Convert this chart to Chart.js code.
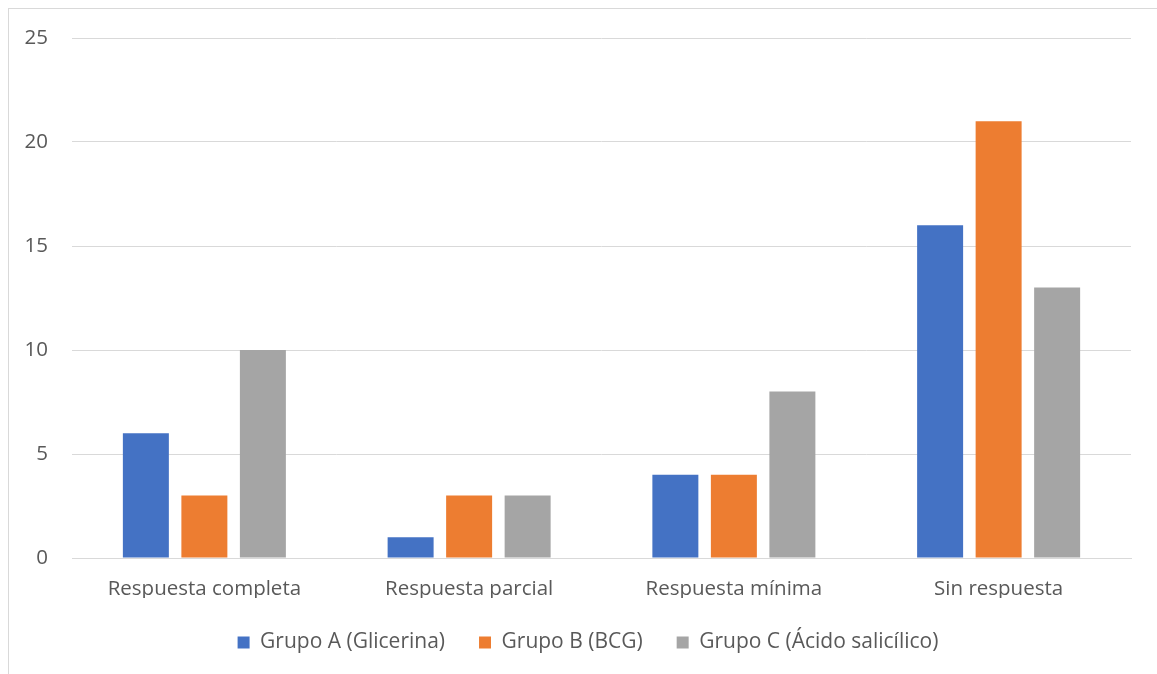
<!DOCTYPE html>
<html>
<head>
<meta charset="utf-8">
<script src="https://cdn.jsdelivr.net/npm/chart.js@4"></script>
<style>
  html, body { margin: 0; padding: 0; background: #fff; overflow: hidden; }
  #frame { position: absolute; left: 8px; top: 8px; width: 1200px; height: 700px; border: 1px solid #d9d9d9; }
  #wrap { position: absolute; left: 0; top: 0; width: 1157px; height: 674px; }
</style>
</head>
<body>
<div id="frame"></div>
<div id="wrap"><canvas id="myChart"></canvas></div>
<script>
var categorias = ['Respuesta completa', 'Respuesta parcial', 'Respuesta mínima', 'Sin respuesta'];
var grupoA = [6, 1, 4, 16];
var grupoB = [3, 3, 4, 21];
var grupoC = [10, 3, 8, 13];
var nombres = ['Grupo A (Glicerina)', 'Grupo B (BCG)', 'Grupo C (Ácido salicílico)'];
var colores = ['#4472C4', '#ED7D31', '#A5A5A5'];

var fuente = { family: 'Open Sans', size: 20.5 };

// fija la altura de la leyenda y la corre un poco a la derecha
var ajusteLeyenda = {
    id: 'ajusteLeyenda',
    beforeLayout: function (chart) {
        var lg = chart.legend;
        if (lg && !lg._fijado) {
            var fitOrig = lg.fit;
            lg.fit = function () {
                fitOrig.call(this);
                this.height = 76;
            };
            lg._fijado = true;
        }
    },
    afterLayout: function (chart) {
        var lg = chart.legend;
        if (lg) {
            lg.left = 45;
            lg.width = lg.right - lg.left;
        }
    }
};

function drawChart() {
    var ctx = document.getElementById('myChart');
    var series = [grupoA, grupoB, grupoC];
    var datasets = [];
    for (let i = 0; i < series.length; i++) {
        datasets.push({
            label: nombres[i],
            data: series[i],
            backgroundColor: colores[i],
            borderWidth: 0,
            categoryPercentage: 0.663,
            barPercentage: 0.786
        });
    }
    new Chart(ctx, {
        type: 'bar',
        data: { labels: categorias, datasets: datasets },
        options: {
            responsive: true,
            maintainAspectRatio: false,
            animation: false,
            layout: { padding: { top: 38, right: 26, left: 0, bottom: 0 } },
            plugins: {
                tooltip: { enabled: false },
                legend: {
                    position: 'bottom',
                    labels: {
                        font: { family: 'Open Sans', size: 21 },
                        color: '#595959',
                        boxWidth: 12,
                        boxHeight: 12,
                        padding: 34
                    }
                }
            },
            scales: {
                x: {
                    grid: { display: false },
                    border: { color: '#d9d9d9', width: 1 },
                    ticks: { font: fuente, color: '#595959', padding: 11 },
                    afterFit: function (scale) { scale.height = 40; }
                },
                y: {
                    min: 0,
                    max: 25,
                    ticks: { stepSize: 5, font: fuente, color: '#595959', padding: 24 },
                    grid: { color: '#d9d9d9', lineWidth: 1, drawTicks: false },
                    border: { display: false },
                    afterFit: function (scale) { scale.width = 72; }
                }
            }
        },
        plugins: [ajusteLeyenda]
    });
}

drawChart();
</script>
</body>
</html>
